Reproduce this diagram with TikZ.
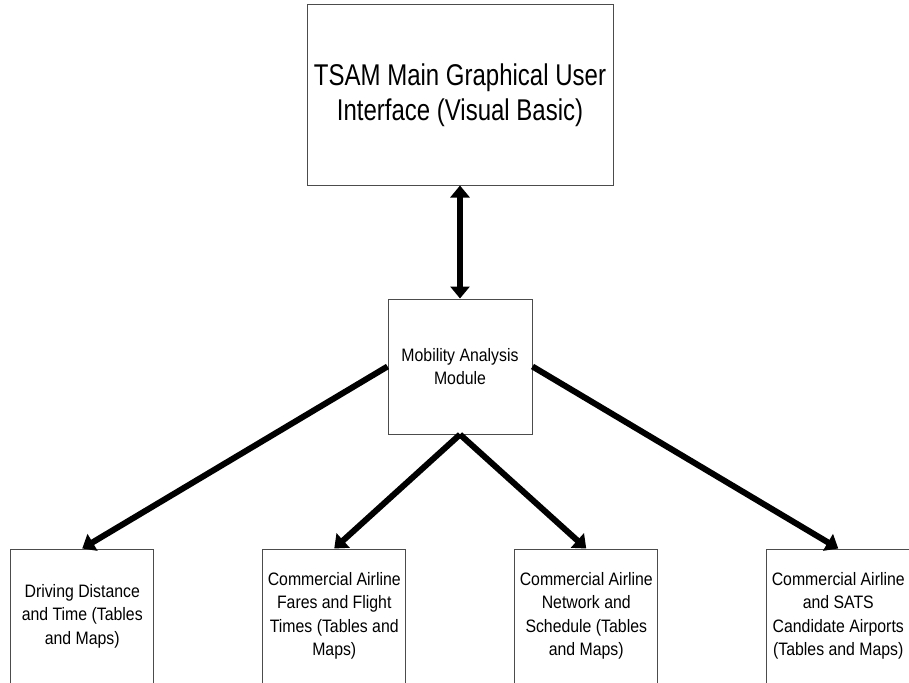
\documentclass[tikz,border=0pt]{standalone}
\usepackage{fontspec}
\setmainfont{Liberation Sans}
\newfontfamily\bigfont{Liberation Sans}[FakeStretch=0.8]
\newfontfamily\smallfont{Liberation Sans}[FakeStretch=0.88]
\usetikzlibrary{arrows.meta, positioning}

\begin{document}
\begin{tikzpicture}[>={Triangle[length=12pt, width=19pt]},
    box/.style={draw=black!70, line width=1pt, align=center, inner sep=2pt},
    leaf/.style={box, minimum width=143pt, minimum height=134pt, font=\smallfont\fontsize{18}{23.4}\selectfont},
    link/.style={->, line width=6pt}]
  \useasboundingbox (0,0) rectangle (909pt,-682pt);
  \node[box, minimum width=306pt, minimum height=180pt, font=\bigfont\fontsize{30}{35}\selectfont] (gui) at (460pt,-95pt) {TSAM Main Graphical User\\Interface (Visual Basic)};
  \node[box, below=113pt of gui, minimum width=144pt, minimum height=135pt, font=\smallfont\fontsize{18}{23.4}\selectfont] (mob) {Mobility Analysis\\Module};
  \node[leaf, below=114pt of mob, xshift=-125.75pt] (fares) {Commercial Airline\\Fares and Flight\\Times (Tables and\\Maps)};
  \node[leaf, left=108pt of fares] (drive) {Driving Distance\\and Time (Tables\\and Maps)};
  \node[leaf, right=108pt of fares] (network) {Commercial Airline\\Network and\\Schedule (Tables\\and Maps)};
  \node[leaf, right=108pt of network] (sats) {Commercial Airline\\and SATS\\Candidate Airports\\(Tables and Maps)};
  \draw[link, <->] (gui) -- (mob);
  \draw[link] (mob.west) -- (drive.north);
  \draw[link] (mob.south) -- (fares.north);
  \draw[link] (mob.south) -- (network.north);
  \draw[link] (mob.east) -- (sats.north);
\end{tikzpicture}
\end{document}
